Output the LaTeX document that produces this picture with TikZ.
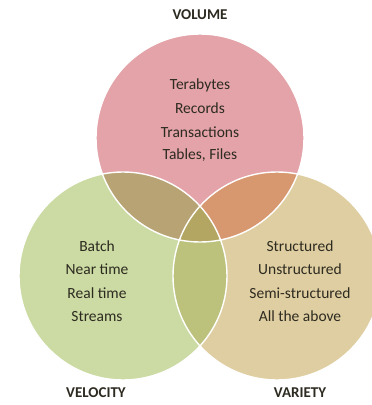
\documentclass[tikz,border=0pt]{standalone}
\usepackage{fontspec}
\setmainfont{Carlito}
\definecolor{cpink}{RGB}{227,163,168}
\definecolor{cgreen}{RGB}{203,219,163}
\definecolor{ctan}{RGB}{223,206,161}
\definecolor{cpg}{RGB}{184,163,116}
\definecolor{cpt}{RGB}{215,152,112}
\definecolor{cgt}{RGB}{188,193,124}
\definecolor{call}{RGB}{178,166,98}
\definecolor{ctext}{RGB}{45,42,32}
\tikzset{
  body/.style={font=\fontsize{15.5}{18}\selectfont, text=ctext, inner sep=0pt},
  title/.style={font=\fontsize{15}{18}\selectfont\bfseries, text=ctext, inner sep=0pt},
  ring/.style={draw=white, line width=1.4pt}
}
\begin{document}
\begin{tikzpicture}[x=1pt,y=-1pt]
\useasboundingbox (0,0) rectangle (372,405);
\clip (0,0) rectangle (372,405);
\def\rr{104}
\coordinate (cv) at (200,138);
\coordinate (cl) at (123,276);
\coordinate (cr) at (277,276);
% base fills
\fill[cpink] (cv) circle (\rr);
\fill[cgreen] (cl) circle (\rr);
\fill[ctan] (cr) circle (\rr);
% pairwise overlaps
\begin{scope}
  \clip (cv) circle (\rr);
  \fill[cpg] (cl) circle (\rr);
  \fill[cpt] (cr) circle (\rr);
\end{scope}
\begin{scope}
  \clip (cl) circle (\rr);
  \fill[cgt] (cr) circle (\rr);
\end{scope}
\begin{scope}
  \clip (cv) circle (\rr);
  \clip (cl) circle (\rr);
  \fill[call] (cr) circle (\rr);
\end{scope}
% outlines
\draw[ring] (cv) circle (\rr);
\draw[ring] (cl) circle (\rr);
\draw[ring] (cr) circle (\rr);
% titles
\node[title] (tvol) at (200,15) {VOLUME};
\node[title] (tvel) at (96,393) {VELOCITY};
\node[title] (tvar) at (300,393) {VARIETY};
% volume items
\node[body] (v1) at (200,85) {Terabytes};
\node[body] (v2) at (200,108.5) {Records};
\node[body] (v3) at (200,132) {Transactions};
\node[body] (v4) at (200,155.5) {Tables, Files};
% velocity items
\node[body] (l1) at (97,246) {Batch};
\node[body] (l2) at (97,269.5) {Near time};
\node[body] (l3) at (97,293) {Real time};
\node[body] (l4) at (97,316.5) {Streams};
% variety items
\node[body] (r1) at (300,246) {Structured};
\node[body] (r2) at (300,269.5) {Unstructured};
\node[body] (r3) at (300,293) {Semi-structured};
\node[body] (r4) at (300,316.5) {All the above};
\end{tikzpicture}
\end{document}
